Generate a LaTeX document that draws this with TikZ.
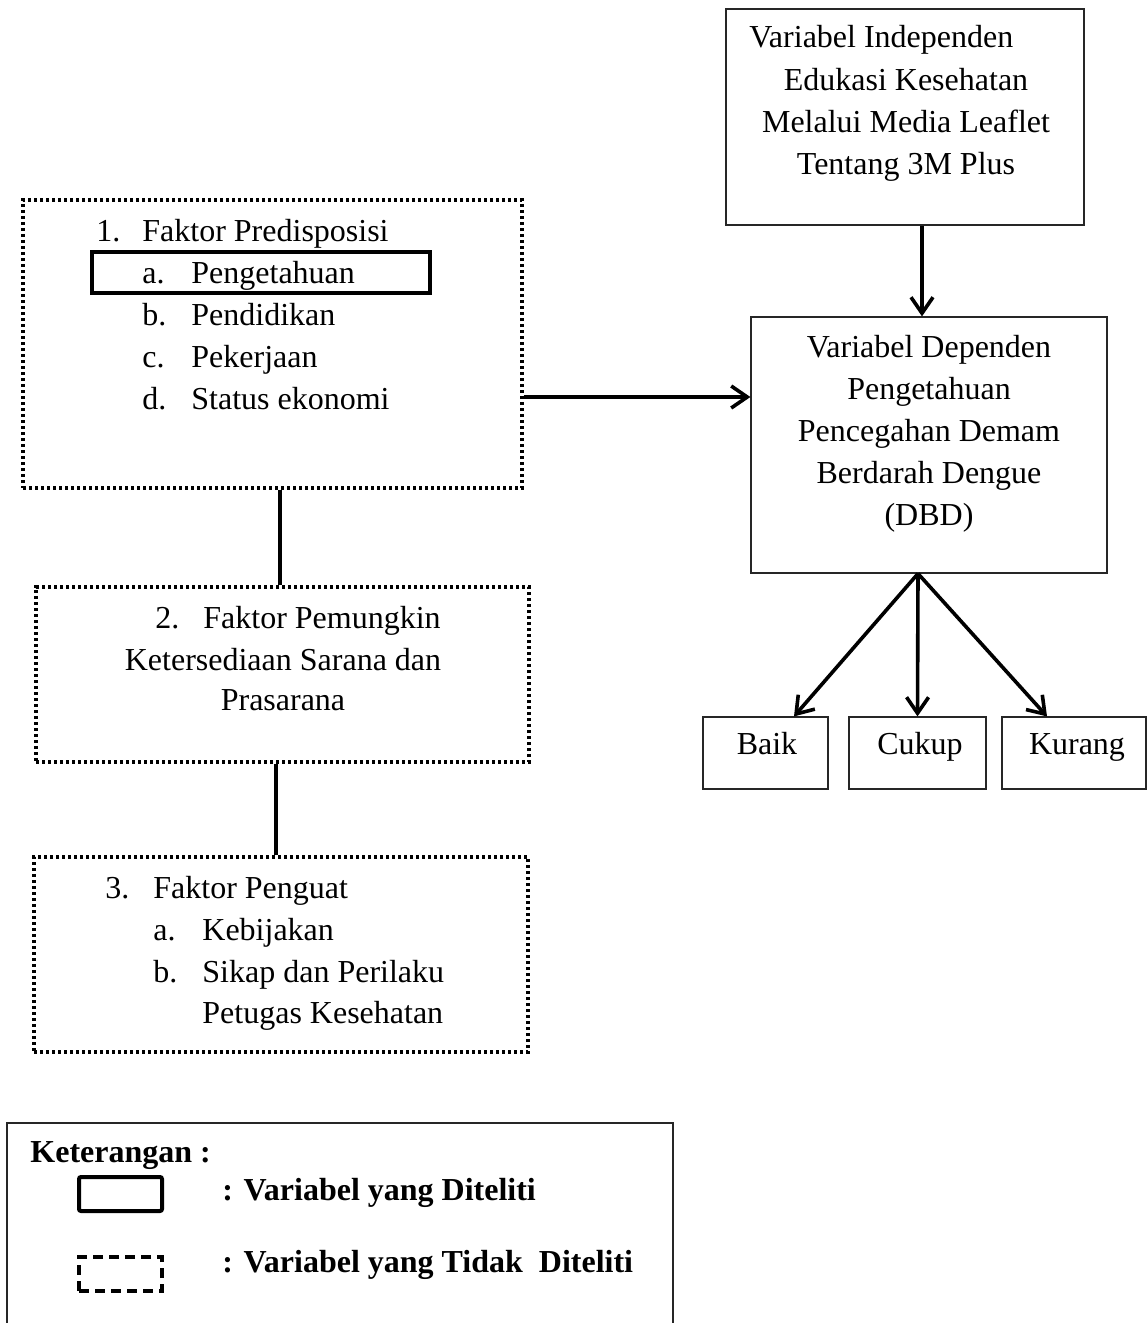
\documentclass[tikz,border=0pt]{standalone}
\usepackage{fontspec}
\setmainfont{Liberation Serif}
\usepackage{tikz}
\usetikzlibrary{arrows.meta,positioning}

\begin{document}
\begin{tikzpicture}[x=0.5pt,y=-0.5pt,every node/.style={font=\fontsize{16}{21}\selectfont}]
\tikzstyle{box}=[rectangle, draw=black!85, line width=0.6pt, inner sep=0pt]
\tikzstyle{dotbox}=[rectangle, draw=black, line width=1.6pt, dash pattern=on 1.6pt off 1.4pt, inner sep=0pt]
\tikzstyle{thickbox}=[rectangle, draw=black, line width=1.6pt, inner sep=0pt]
\tikzstyle{dashbox}=[rectangle, draw=black, line width=2pt, dash pattern=on 5pt off 3pt, inner sep=0pt]
\tikzstyle{connect}=[-{Straight Barb[length=8pt,width=11pt]}, line width=1.8pt]
\tikzstyle{link}=[line width=1.6pt]
\tikzstyle{txt}=[inner sep=0pt, anchor=base west]
\tikzstyle{ctxt}=[inner sep=0pt, anchor=base]
\useasboundingbox (0,0) rectangle (1147,1323);
  % boxes
  \node[box, minimum width=179pt, minimum height=108pt] (indep) at (905,117) {};
  \node[box, minimum width=178pt, minimum height=128pt] (dep) at (929,445) {};
  \node[box, minimum width=62.5pt, minimum height=36pt] (baik) at (765.5,753) {};
  \node[box, minimum width=68.5pt, minimum height=36pt] (cukup) at (917.5,753) {};
  \node[box, minimum width=72pt, minimum height=36pt] (kurang) at (1074,753) {};
  \node[dotbox, minimum width=249.5pt, minimum height=144pt] (pred) at (272.5,344) {};
  \node[thickbox, minimum width=169pt, minimum height=20.5pt] (tahu) at (261,272.5) {};
  \node[dotbox, minimum width=246.5pt, minimum height=87.5pt] (mungkin) at (282.5,674.5) {};
  \node[dotbox, minimum width=247pt, minimum height=97.5pt] (kuat) at (281,954.5) {};
  % independen
  \node[txt] (i1) at (749,47) {Variabel Independen};
  \node[ctxt] (i2) at (906,90) {Edukasi Kesehatan};
  \node[ctxt] (i3) at (906,132) {Melalui Media Leaflet};
  \node[ctxt] (i4) at (906,174) {Tentang 3M Plus};
  % dependen
  \node[ctxt] (d1) at (929,357) {Variabel Dependen};
  \node[ctxt] (d2) at (929,399) {Pengetahuan};
  \node[ctxt] (d3) at (929,441) {Pencegahan Demam};
  \node[ctxt] (d4) at (929,483) {Berdarah Dengue};
  \node[ctxt] (d5) at (929,525) {(DBD)};
  \node[ctxt] (b1) at (767,754) {Baik};
  \node[ctxt] (c1) at (920,754) {Cukup};
  \node[ctxt] (k1) at (1077,754) {Kurang};
  % predisposisi
  \node[txt] (p0) at (96,241) {1.};
  \node[txt] (p1) at (142,241) {Faktor Predisposisi};
  \node[txt] (pa) at (142,283) {a.};
  \node[txt] (pa1) at (191,283) {Pengetahuan};
  \node[txt] (pb) at (142,325) {b.};
  \node[txt] (pb1) at (191,325) {Pendidikan};
  \node[txt] (pc) at (142,367) {c.};
  \node[txt] (pc1) at (191,367) {Pekerjaan};
  \node[txt] (pd) at (142,409) {d.};
  \node[txt] (pd1) at (191,409) {Status ekonomi};
  % pemungkin
  \node[txt] (m0) at (155,628) {2.};
  \node[txt] (m1) at (203,628) {Faktor Pemungkin};
  \node[ctxt] (m2) at (283,670) {Ketersediaan Sarana dan};
  \node[ctxt] (m3) at (283,710) {Prasarana};
  % penguat
  \node[txt] (k0) at (105,898) {3.};
  \node[txt] (kk1) at (153,898) {Faktor Penguat};
  \node[txt] (ka) at (153,940) {a.};
  \node[txt] (ka1) at (202,940) {Kebijakan};
  \node[txt] (kb) at (153,982) {b.};
  \node[txt] (kb1) at (202,982) {Sikap dan Perilaku};
  \node[txt] (kb2) at (202,1023) {Petugas Kesehatan};
  % connectors
  \draw[connect] ([xshift=8.5pt]indep.south) -- ([xshift=-3.5pt]dep.north);
  \draw[connect] ([yshift=-26.5pt]pred.east) -- ([yshift=-26.5pt]pred.east -| dep.west);
  \draw[link] ([xshift=3.75pt]pred.south) -- ([xshift=3.75pt]pred.south |- mungkin.north);
  \draw[link] ([xshift=-3.25pt]mungkin.south) -- ([xshift=-3.25pt]mungkin.south |- kuat.north);
  \coordinate (cab) at ([xshift=-5.5pt]dep.south);
  \draw[connect] (cab) -- ([xshift=14.25pt]baik.north);
  \draw[connect] (cab) -- (cukup.north);
  \draw[connect] (cab) -- ([xshift=-13.5pt]kurang.north);
  % keterangan
  \draw[box] (7,1323) -- (7,1123) -- (673,1123) -- (673,1323);
  \node[txt] (ket) at (30,1162) {\textbf{Keterangan :}};
  \node[thickbox, rounded corners=1pt, line width=2pt, minimum width=41.5pt, minimum height=17pt] (lg1) at (120.5,1194) {};
  \node[dashbox, minimum width=41.5pt, minimum height=17pt] (lg2) at (120.5,1274) {};
  \node[txt] (ket1) at (222,1200) {\textbf{: Variabel yang Diteliti}};
  \node[txt] (ket2) at (222,1272) {\textbf{: Variabel yang Tidak~ Diteliti}};
\end{tikzpicture}
\end{document}
